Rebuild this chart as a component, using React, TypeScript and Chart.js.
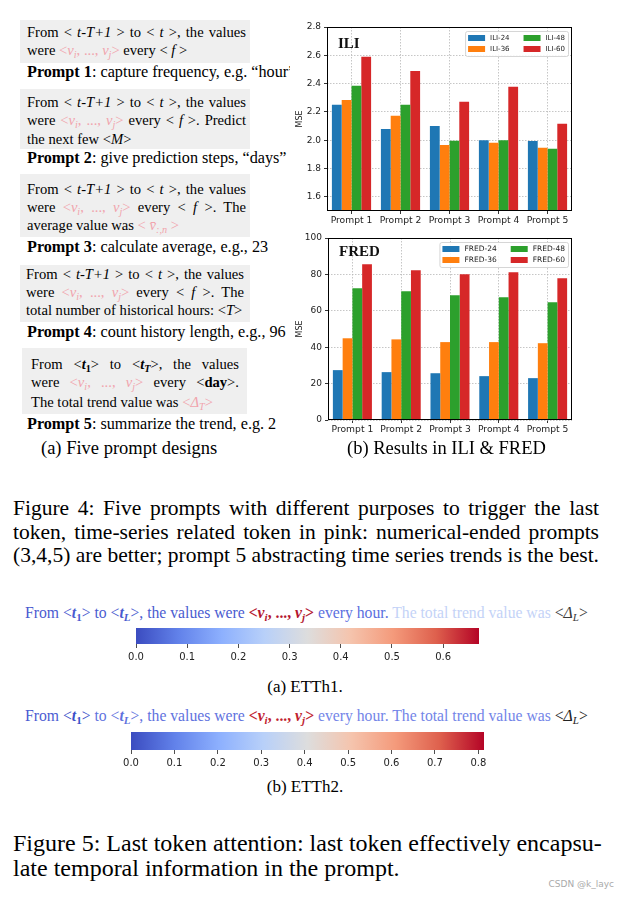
import React, { useEffect, useRef } from "react";
import { Chart, registerables } from "chart.js";
Chart.register(...registerables);

// ---------------- data ----------------
const PROMPTS = ["Prompt 1", "Prompt 2", "Prompt 3", "Prompt 4", "Prompt 5"];

const ILI_NAMES = ["ILI-24", "ILI-36", "ILI-48", "ILI-60"];
const ILI_24 = [2.25, 2.08, 2.1, 2.0, 1.995];
const ILI_36 = [2.285, 2.173, 1.967, 1.983, 1.946];
const ILI_48 = [2.385, 2.25, 1.996, 2.0, 1.939];
const ILI_60 = [2.59, 2.49, 2.272, 2.378, 2.116];
const ILI_Y_TICKS = [1.6, 1.8, 2.0, 2.2, 2.4, 2.6, 2.8];

const FRED_NAMES = ["FRED-24", "FRED-36", "FRED-48", "FRED-60"];
const FRED_24 = [27.4, 26.3, 25.7, 24.1, 23.0];
const FRED_36 = [44.9, 44.3, 42.8, 42.8, 42.2];
const FRED_48 = [72.4, 70.8, 68.6, 67.5, 64.7];
const FRED_60 = [85.6, 82.3, 80.1, 81.2, 77.9];
const FRED_Y_TICKS = [0, 20, 40, 60, 80, 100];

const ETTH1_TICKS = [0, 0.1, 0.2, 0.3, 0.4, 0.5, 0.6];
const ETTH1_MAX = 0.67;
const ETTH2_TICKS = [0, 0.1, 0.2, 0.3, 0.4, 0.5, 0.6, 0.7, 0.8];
const ETTH2_MAX = 0.813;

// ---------------- styles ----------------
const SERIES_COLORS = ["#1f77b4", "#ff7f0e", "#2ca02c", "#d62728"];
const SERIF = "'Liberation Serif', 'Times New Roman', serif";
const SANS = "'DejaVu Sans', sans-serif";
const PINK = "#f1a4ad";
const BOXBG = "#efefef";
const COOLWARM: [number, string][] = [
  [0, "rgb(59,76,192)"],
  [0.125, "rgb(98,130,234)"],
  [0.25, "rgb(141,176,254)"],
  [0.375, "rgb(184,208,249)"],
  [0.5, "rgb(221,221,221)"],
  [0.625, "rgb(245,196,173)"],
  [0.75, "rgb(244,154,123)"],
  [0.875, "rgb(222,96,77)"],
  [1, "rgb(180,4,38)"],
];

type BarProps = {
  left: number; top: number; width: number; height: number;
  pad: { left: number; right: number; top: number; bottom: number };
  yWidth: number; xHeight: number;
  names: string[]; series: number[][];
  yMin: number; yMax: number; yTicks: number[]; decimals: number;
  title: string; titleDy: number;
  legendRowH: number; legendPad: number; legendColGap: number; legendFont: number;
};

function BarChart(p: BarProps) {
  const ref = useRef<HTMLCanvasElement>(null);
  useEffect(() => {
    const overlay = {
      id: "overlay",
      afterDatasetsDraw(chart: any) {
        const { ctx, chartArea: a } = chart;
        ctx.save();
        ctx.setLineDash([]);
        ctx.strokeStyle = "#000";
        ctx.lineWidth = 1;
        ctx.strokeRect(a.left + 0.5, a.top + 0.5, a.right - a.left - 1, a.bottom - a.top - 1);
        ctx.fillStyle = "#111";
        ctx.font = `bold 15px ${SERIF}`;
        ctx.textBaseline = "middle";
        ctx.textAlign = "left";
        ctx.fillText(p.title, a.left + 11, a.top + p.titleDy);
        const ds = chart.data.datasets;
        ctx.font = `${p.legendFont}px ${SANS}`;
        const rows = 2;
        const cols = Math.ceil(ds.length / rows);
        const tw = Math.max(...ds.map((d: any) => ctx.measureText(d.label).width));
        const sw = 17, sh = 6, gap = 5, pad = p.legendPad;
        const colW = sw + gap + tw;
        const w = pad * 2 + cols * colW + (cols - 1) * p.legendColGap;
        const h = 3 + rows * p.legendRowH;
        const x0 = a.right - 4 - w;
        const y0 = a.top + 4;
        ctx.fillStyle = "rgba(255,255,255,0.85)";
        ctx.strokeStyle = "#cccccc";
        ctx.lineWidth = 0.8;
        ctx.beginPath();
        (ctx as any).roundRect(x0 + 0.5, y0 + 0.5, w, h, 2);
        ctx.fill();
        ctx.stroke();
        ds.forEach((d: any, i: number) => {
          const c = Math.floor(i / rows), r = i % rows;
          const x = x0 + pad + c * (colW + p.legendColGap);
          const yc = y0 + 1.5 + r * p.legendRowH + p.legendRowH / 2;
          ctx.fillStyle = d.backgroundColor;
          ctx.fillRect(x, yc - sh / 2, sw, sh);
          ctx.fillStyle = "#222";
          ctx.textBaseline = "middle";
          ctx.fillText(d.label, x + sw + gap, yc + 0.5);
        });
        ctx.restore();
      },
    };
    const chart = new Chart(ref.current!, {
      type: "bar",
      data: {
        labels: PROMPTS,
        datasets: p.series.map((d, i) => ({
          label: p.names[i],
          data: d,
          backgroundColor: SERIES_COLORS[i],
          borderWidth: 0,
          categoryPercentage: 0.8,
          barPercentage: 1,
        })),
      },
      options: {
        responsive: false,
        animation: false,
        devicePixelRatio: 1,
        layout: { padding: p.pad },
        plugins: { legend: { display: false }, tooltip: { enabled: false } },
        scales: {
          x: {
            afterFit: (s: any) => { s.height = p.xHeight; },
            grid: {
              offset: false, color: "#b8b8b8", lineWidth: 0.8,
              drawTicks: true, tickLength: 3, tickColor: "#000", tickWidth: 0.8, tickBorderDash: [],
            },
            border: { display: false, dash: [1.5, 1.5] },
            ticks: { font: { size: 9.2, family: SANS }, color: "#222", padding: 1, maxRotation: 0, autoSkip: false },
          },
          y: {
            min: p.yMin,
            max: p.yMax,
            afterFit: (s: any) => { s.width = p.yWidth; },
            afterBuildTicks: (s: any) => { s.ticks = p.yTicks.map((v) => ({ value: v })); },
            grid: {
              color: "#b8b8b8", lineWidth: 0.8,
              drawTicks: true, tickLength: 3, tickColor: "#000", tickWidth: 0.8, tickBorderDash: [],
            },
            border: { display: false, dash: [1.5, 1.5] },
            title: { display: true, text: "MSE", font: { size: 8, family: SANS }, color: "#222", padding: { top: 5, bottom: 0 } },
            ticks: {
              font: { size: 9, family: SANS }, color: "#222", padding: 3,
              callback: (v: any) => Number(v).toFixed(p.decimals),
            },
          },
        },
      },
      plugins: [overlay],
    } as any);
    return () => chart.destroy();
  }, []);
  return (
    <canvas
      ref={ref}
      width={p.width}
      height={p.height}
      style={{ position: "absolute", left: p.left, top: p.top, width: p.width, height: p.height, background: "#fff" }}
    />
  );
}

type CBProps = { left: number; top: number; width: number; height: number; padL: number; padR: number; padT: number; barH: number; max: number; ticks: number[] };

function ColorBar(p: CBProps) {
  const ref = useRef<HTMLCanvasElement>(null);
  useEffect(() => {
    const grad = {
      id: "cbGrad",
      beforeDatasetsDraw(chart: any) {
        const { ctx, chartArea: a } = chart;
        const g = ctx.createLinearGradient(a.left, 0, a.right, 0);
        COOLWARM.forEach(([s, c]) => g.addColorStop(s, c));
        ctx.save();
        ctx.fillStyle = g;
        ctx.fillRect(a.left, a.top, a.right - a.left, a.bottom - a.top);
        ctx.restore();
      },
    };
    const chart = new Chart(ref.current!, {
      type: "scatter",
      data: { datasets: [{ data: [] }] },
      options: {
        responsive: false,
        animation: false,
        devicePixelRatio: 1,
        layout: { padding: { left: p.padL, right: p.padR, top: p.padT, bottom: 0 } },
        plugins: { legend: { display: false }, tooltip: { enabled: false } },
        scales: {
          x: {
            type: "linear", min: 0, max: p.max,
            afterFit: (s: any) => { s.height = p.height - p.padT - p.barH; },
            afterBuildTicks: (s: any) => { s.ticks = p.ticks.map((v) => ({ value: v })); },
            grid: { drawOnChartArea: false, drawTicks: true, tickLength: 4, tickColor: "#222", tickWidth: 0.8 },
            border: { display: false },
            ticks: { font: { size: 10, family: SANS }, color: "#222", padding: 3, maxRotation: 0, autoSkip: false, callback: (v: any) => Number(v).toFixed(1) },
          },
          y: { display: false, min: 0, max: 1 },
        },
      },
      plugins: [grad],
    } as any);
    return () => chart.destroy();
  }, []);
  return (
    <canvas ref={ref} width={p.width} height={p.height}
      style={{ position: "absolute", left: p.left, top: p.top, width: p.width, height: p.height }} />
  );
}

// ---------------- text helpers ----------------
const Sub = ({ children }: any) => (
  <sub style={{ fontSize: "0.7em", verticalAlign: "-0.25em", lineHeight: 0 }}>{children}</sub>
);
const Pink = ({ children }: any) => <span style={{ color: PINK }}>{children}</span>;
const VTok = () => (
  <Pink>&lt;<i>v</i><Sub><i>i</i></Sub>, ..., <i>v</i><Sub><i>j</i></Sub>&gt;</Pink>
);
const FromLine = () => (
  <>From &lt; <i>t-T+1</i> &gt; to &lt; <i>t</i> &gt;, the values</>
);

function L(props: { x: number; y: number; w?: number; size: number; j?: boolean; children: any; style?: any }) {
  const { x, y, w, size, j, children, style } = props;
  const lh = Math.round(size * 1.2);
  return (
    <div
      style={{
        position: "absolute", left: x, top: y - lh / 2, width: w, height: lh,
        fontSize: size, lineHeight: `${lh}px`,
        textAlign: j ? "justify" : "left",
        textAlignLast: j ? "justify" : "left",
        whiteSpace: "nowrap",
        ...style,
      } as any}
    >
      {children}
    </div>
  );
}

const Box = ({ x, y, w, h }: any) => (
  <div style={{ position: "absolute", left: x, top: y, width: w, height: h, background: BOXBG }} />
);

export default function App() {
  useEffect(() => {
    document.body.style.margin = "0";
  }, []);
  const FS = 14.6;
  const PS = 16.2;
  return (
    <div style={{ position: "relative", width: 620, height: 898, background: "#fff", fontFamily: SERIF, color: "#000", overflow: "hidden" }}>
      {/* ---- left panel ---- */}
      <Box x={20} y={20} w={230} h={43} />
      <L x={27} y={32} w={219} size={FS} j><FromLine /></L>
      <L x={27} y={50} size={FS}>were <VTok /> every &lt; <i>f</i> &gt;</L>
      <L x={27} y={72} size={PS}><b>Prompt 1</b>: capture frequency, e.g. “hour”</L>

      <Box x={20} y={89} w={230} h={60} />
      <L x={27} y={102} w={219} size={FS} j><FromLine /></L>
      <L x={27} y={120} w={219} size={FS} j>were <VTok /> every &lt; <i>f</i> &gt;. Predict</L>
      <L x={27} y={139} size={FS}>the next few &lt;<i>M</i>&gt;</L>
      <L x={27} y={158} size={PS}><b>Prompt 2</b>: give prediction steps, “days”</L>

      <Box x={20} y={174} w={230} h={63} />
      <L x={27} y={189} w={219} size={FS} j><FromLine /></L>
      <L x={27} y={207} w={219} size={FS} j>were <VTok /> every &lt; <i>f</i> &gt;. The</L>
      <L x={27} y={225} size={FS}>average value was <Pink>&lt; <i>v̄</i><Sub><i>:,n</i></Sub> &gt;</Pink></L>
      <L x={27} y={247} size={PS}><b>Prompt 3</b>: calculate average, e.g., 23</L>

      <Box x={20} y={265} w={230} h={57} />
      <L x={26} y={274} w={218} size={FS} j><FromLine /></L>
      <L x={26} y={292} w={218} size={FS} j>were <VTok /> every &lt; <i>f</i> &gt;. The</L>
      <L x={26} y={310} size={FS}>total number of historical hours: &lt;<i>T</i>&gt;</L>
      <L x={27} y={332} size={PS}><b>Prompt 4</b>: count history length, e.g., 96</L>

      <Box x={22} y={348} w={225} h={66} />
      <L x={31} y={364} w={208} size={FS} j>From &lt;<b><i>t</i><Sub>1</Sub></b>&gt; to &lt;<b><i>t</i><Sub><i>T</i></Sub></b>&gt;, the values</L>
      <L x={31} y={382} w={208} size={FS} j>were <VTok /> every &lt;<b>day</b>&gt;.</L>
      <L x={31} y={402} size={FS}>The total trend value was <Pink>&lt;<i>Δ</i><Sub><i>T</i></Sub>&gt;</Pink></L>
      <L x={27} y={424} size={PS}><b>Prompt 5</b>: summarize the trend, e.g. 2</L>

      <L x={41} y={448} size={18.5}>(a) Five prompt designs</L>

      {/* ---- charts ---- */}
      <BarChart
        left={290} top={15} width={300} height={215}
        pad={{ left: 0, right: 18, top: 12, bottom: 0 }} yWidth={37} xHeight={19}
        names={ILI_NAMES} series={[ILI_24, ILI_36, ILI_48, ILI_60]}
        yMin={1.5} yMax={2.8} yTicks={ILI_Y_TICKS} decimals={1}
        title="ILI" titleDy={17}
        legendRowH={11} legendPad={3} legendColGap={14} legendFont={7}
      />
      <BarChart
        left={290} top={228} width={300} height={215}
        pad={{ left: 0, right: 18, top: 10, bottom: 0 }} yWidth={38} xHeight={23}
        names={FRED_NAMES} series={[FRED_24, FRED_36, FRED_48, FRED_60]}
        yMin={0} yMax={100} yTicks={FRED_Y_TICKS} decimals={0}
        title="FRED" titleDy={14}
        legendRowH={11} legendPad={3} legendColGap={14} legendFont={7.5}
      />
      <L x={347} y={448} size={18.5}>(b) Results in ILI &amp; FRED</L>

      {/* ---- Figure 4 caption ---- */}
      <L x={13} y={508} w={586} size={21.5} j>Figure 4: Five prompts with different purposes to trigger the last</L>
      <L x={13} y={532} w={586} size={21.5} j>token, time-series related token in pink: numerical-ended prompts</L>
      <L x={13} y={555} w={586} size={21.5} j>(3,4,5) are better; prompt 5 abstracting time series trends is the best.</L>

      {/* ---- ETTh1 ---- */}
      <L x={25} y={612} size={15.7}>
        <span style={{ color: "#4a5bd0" }}>From &lt;<b><i>t</i><Sub>1</Sub></b>&gt; to &lt;<b><i>t</i><Sub><i>L</i></Sub></b>&gt;, the values were </span>
        <span style={{ color: "#b4162e", fontWeight: "bold" }}>&lt;<i>v</i><Sub><i>i</i></Sub>, ..., <i>v</i><Sub><i>j</i></Sub>&gt;</span>
        <span style={{ color: "#5a6fe0" }}> every hour. </span>
        <span style={{ color: "#c4d3f7" }}>The total trend value was </span>
        <span style={{ color: "#3a3a3a" }}>&lt;<i>Δ</i><Sub><i>L</i></Sub>&gt;</span>
      </L>
      <ColorBar left={120} top={622} width={380} height={50} padL={16} padR={21} padT={6} barH={16} max={ETTH1_MAX} ticks={ETTH1_TICKS} />
      <L x={0} y={687} w={610} size={17} style={{ textAlign: "center", textAlignLast: "center" }}>(a) ETTh1.</L>

      {/* ---- ETTh2 ---- */}
      <L x={25} y={715} size={15.7}>
        <span style={{ color: "#4b5cd2" }}>From </span>
        <span style={{ color: "#3a4fc8" }}>&lt;<b><i>t</i><Sub>1</Sub></b>&gt;</span>
        <span style={{ color: "#5f72de" }}> to &lt;<b><i>t</i><Sub><i>L</i></Sub></b>&gt;, the values were </span>
        <span style={{ color: "#c1232f", fontWeight: "bold" }}>&lt;<i>v</i><Sub><i>i</i></Sub>, ..., <i>v</i><Sub><i>j</i></Sub>&gt;</span>
        <span style={{ color: "#7385e8" }}> every hour. The total trend value was </span>
        <span style={{ color: "#222" }}>&lt;<i>Δ</i><Sub><i>L</i></Sub>&gt;</span>
      </L>
      <ColorBar left={115} top={726} width={390} height={50} padL={16} padR={21} padT={6} barH={18} max={ETTH2_MAX} ticks={ETTH2_TICKS} />
      <L x={0} y={787} w={610} size={17} style={{ textAlign: "center", textAlignLast: "center" }}>(b) ETTh2.</L>

      {/* ---- Figure 5 caption ---- */}
      <L x={13} y={843} w={588} size={24} j>Figure 5: Last token attention: last token effectively encapsu-</L>
      <L x={13} y={868} size={24}>late temporal information in the prompt.</L>

      <div style={{ position: "absolute", right: 6, top: 879, fontFamily: SANS, fontSize: 9, color: "#aaa" }}>CSDN @k_layc</div>
    </div>
  );
}
